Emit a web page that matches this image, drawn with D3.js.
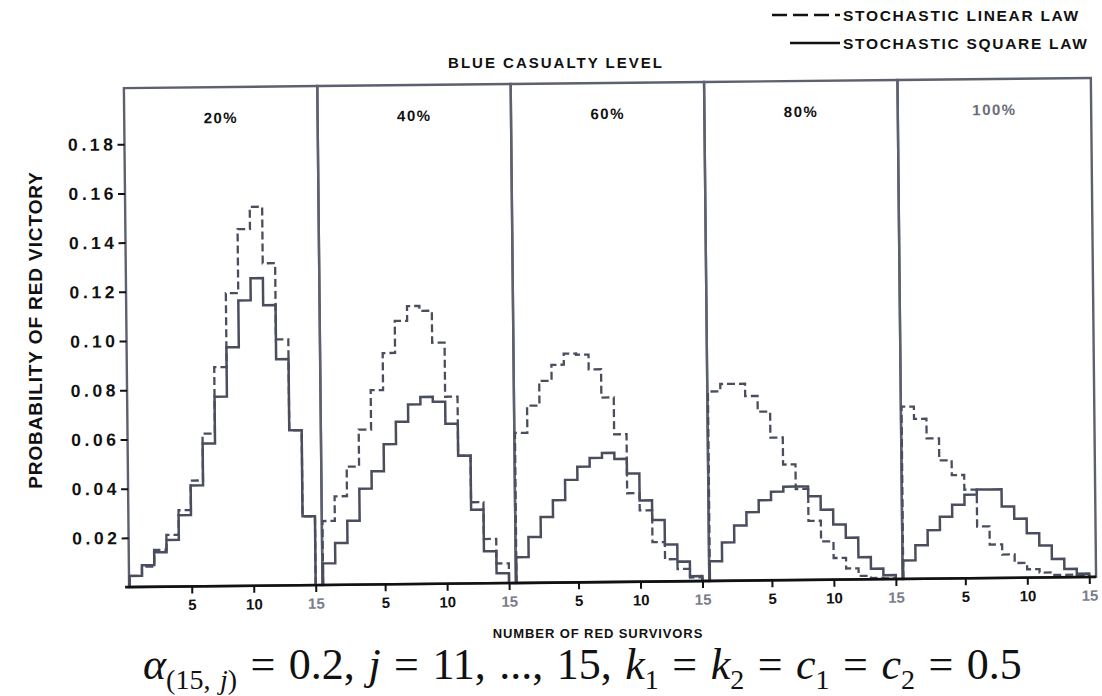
<!DOCTYPE html>
<html lang="en">
<head>
<meta charset="UTF-8">
<title>Probability of Red Victory</title>
<script src="https://d3js.org/d3.v7.min.js"></script>
<style>
  body { margin: 0; background: #fff; }
  svg { display: block; }
  .lbl { font-family: 'Liberation Sans', Arial, sans-serif; font-weight: bold; fill: #111; }
</style>
</head>
<body>
<svg id="chart" width="1102" height="696"></svg>
<script>
// blue casualty levels (one panel each)
const levels = ['20%', '40%', '60%', '80%', '100%'];
// number of red survivors, one bin each
const survivors = [1, 2, 3, 4, 5, 6, 7, 8, 9, 10, 11, 12, 13, 14, 15];

// stochastic linear law (dashed)
const linear20 = [0.0045, 0.0082, 0.015, 0.021, 0.031, 0.043, 0.062, 0.089, 0.119, 0.145, 0.154, 0.131, 0.100, 0.063, 0.028];
const linear40 = [0.026, 0.036, 0.048, 0.063, 0.079, 0.094, 0.107, 0.113, 0.111, 0.098, 0.076, 0.052, 0.033, 0.018, 0.008];
const linear60 = [0.061, 0.072, 0.082, 0.0885, 0.093, 0.0925, 0.0865, 0.075, 0.060, 0.036, 0.029, 0.016, 0.009, 0.005, 0.0015];
const linear80 = [0.077, 0.080, 0.080, 0.075, 0.0686, 0.058, 0.047, 0.037, 0.024, 0.0156, 0.0088, 0.0045, 0.0014, 0.0005, 0.0003];
const linear100 = [0.070, 0.065, 0.057, 0.048, 0.042, 0.036, 0.021, 0.0136, 0.0095, 0.006, 0.0034, 0.002, 0.001, 0.001, 0.0008];

// stochastic square law (solid)
const square20 = [0.0045, 0.0088, 0.014, 0.019, 0.029, 0.041, 0.058, 0.077, 0.097, 0.116, 0.125, 0.114, 0.092, 0.063, 0.028];
const square40 = [0.0088, 0.017, 0.026, 0.039, 0.046, 0.057, 0.066, 0.073, 0.076, 0.074, 0.065, 0.052, 0.030, 0.013, 0.004];
const square60 = [0.0105, 0.0186, 0.0267, 0.0335, 0.0417, 0.047, 0.0505, 0.0525, 0.050, 0.044, 0.033, 0.025, 0.015, 0.008, 0.002];
const square80 = [0.008, 0.0156, 0.0224, 0.0278, 0.0326, 0.036, 0.038, 0.038, 0.034, 0.0285, 0.0224, 0.017, 0.009, 0.0043, 0.0016];
const square100 = [0.0075, 0.0136, 0.0197, 0.0251, 0.0299, 0.034, 0.036, 0.036, 0.029, 0.024, 0.018, 0.013, 0.0075, 0.0034, 0.0014];

const yTicks = [0.02, 0.04, 0.06, 0.08, 0.10, 0.12, 0.14, 0.16, 0.18];
const xTicks = [5, 10, 15];

const panels = levels.map((level, i) => ({
    level: level,
    linear: [linear20, linear40, linear60, linear80, linear100][i],
    square: [square20, square40, square60, square80, square100][i]
}));

const ink = '#111';
const lineColor = '#4a4d5d';
const frameColor = '#5d606e';

const svg = d3.select('#chart');

// the scanned figure is slightly tilted
const plot = svg.append('g').attr('transform', 'rotate(-0.6, 610, 335)');

const panelX = d3.scaleBand().domain(levels).range([126.5, 1093.5]);
const y = d3.scaleLinear().domain([0, 0.2028]).range([582, 83]);
const x = d3.scaleLinear().domain([-0.05, 15.55]).range([0, panelX.bandwidth()]);

const step = d3.line()
    .x(d => x(d[0]))
    .y(d => y(d[1]))
    .curve(d3.curveStepAfter);

function stepPoints(vals) {
    const last = survivors[survivors.length - 1];
    const pts = [[0, 0]];
    vals.forEach((v, i) => pts.push([survivors[i] - 1, v]));
    pts.push([last, vals[vals.length - 1]]);
    pts.push([last, 0]);
    return pts;
}

const g = plot.selectAll('g.panel')
    .data(panels)
    .join('g')
    .attr('class', 'panel')
    .attr('transform', d => `translate(${panelX(d.level)},0)`);

g.append('rect')
    .attr('x', 0)
    .attr('y', y(0.2028))
    .attr('width', panelX.bandwidth())
    .attr('height', y(0) - y(0.2028))
    .attr('fill', 'none')
    .attr('stroke', frameColor)
    .attr('stroke-width', 2.4);

g.append('path')
    .attr('d', d => step(stepPoints(d.linear)))
    .attr('fill', 'none')
    .attr('stroke', lineColor)
    .attr('stroke-width', 2.3)
    .attr('stroke-dasharray', '8,4');

g.append('path')
    .attr('d', d => step(stepPoints(d.square)))
    .attr('fill', 'none')
    .attr('stroke', lineColor)
    .attr('stroke-width', 2.5);

g.append('text')
    .attr('class', 'lbl')
    .attr('x', panelX.bandwidth() / 2)
    .attr('y', y(0.2028) + 36)
    .attr('text-anchor', 'middle')
    .style('font-size', '15px')
    .style('letter-spacing', '1.5px')
    .style('fill', d => d.level === '100%' ? '#6a6d7a' : ink)
    .text(d => d.level);

// x axis per panel
g.each(function () {
    const ax = d3.select(this).append('g')
        .attr('transform', `translate(0,${y(0)})`)
        .call(d3.axisBottom(x).tickValues(xTicks).tickSize(7).tickPadding(6).tickFormat(d3.format('d')));
    ax.select('.domain').remove();
    ax.selectAll('line').attr('stroke', ink).attr('stroke-width', 2);
    ax.selectAll('text')
        .attr('class', 'lbl')
        .style('font-size', '15px')
        .style('fill', d => d === 15 ? '#7a7d8a' : ink);
});

// baseline
plot.append('line')
    .attr('x1', panelX.range()[0] - 4)
    .attr('x2', panelX.range()[1])
    .attr('y1', y(0))
    .attr('y2', y(0))
    .attr('stroke', ink)
    .attr('stroke-width', 2.6);

// y axis
const yAx = plot.append('g')
    .attr('transform', `translate(${panelX.range()[0]},0)`)
    .call(d3.axisLeft(y).tickValues(yTicks).tickSize(7).tickPadding(1).tickFormat(d3.format('.2f')));
yAx.select('.domain').remove();
yAx.selectAll('line').attr('stroke', ink).attr('stroke-width', 2);
yAx.selectAll('text')
    .attr('class', 'lbl')
    .style('font-size', '17.5px')
    .style('letter-spacing', '3.6px');

// axis titles
svg.append('text')
    .attr('class', 'lbl')
    .attr('transform', 'translate(42,330) rotate(-90)')
    .attr('text-anchor', 'middle')
    .style('font-size', '19px')
    .style('letter-spacing', '0.9px')
    .text('PROBABILITY OF RED VICTORY');

svg.append('text')
    .attr('class', 'lbl')
    .attr('x', 598)
    .attr('y', 638)
    .attr('text-anchor', 'middle')
    .style('font-size', '13px')
    .style('letter-spacing', '0.9px')
    .text('NUMBER OF RED SURVIVORS');

svg.append('text')
    .attr('class', 'lbl')
    .attr('x', 556)
    .attr('y', 68)
    .attr('text-anchor', 'middle')
    .style('font-size', '15px')
    .style('letter-spacing', '2px')
    .text('BLUE CASUALTY LEVEL');

// legend
const legend = [
    { name: 'STOCHASTIC LINEAR LAW', dash: '15,6', x1: 772, y: 15 },
    { name: 'STOCHASTIC SQUARE LAW', dash: null, x1: 790, y: 43 }
];
const lg = svg.selectAll('g.legend').data(legend).join('g').attr('class', 'legend');
lg.append('line')
    .attr('x1', d => d.x1)
    .attr('x2', 840)
    .attr('y1', d => d.y)
    .attr('y2', d => d.y)
    .attr('stroke', ink)
    .attr('stroke-width', 2.4)
    .attr('stroke-dasharray', d => d.dash);
lg.append('text')
    .attr('class', 'lbl')
    .attr('x', 843)
    .attr('y', d => d.y + 6)
    .style('font-size', '15.5px')
    .style('letter-spacing', '1.7px')
    .text(d => d.name);

// caption formula
const formula = [
    { t: 'α', it: true },
    { t: '(15, ', sub: true },
    { t: 'j', sub: true, it: true },
    { t: ')', sub: true },
    { t: ' = 0.2, ' },
    { t: 'j', it: true },
    { t: ' = 11, ..., 15, ' },
    { t: 'k', it: true },
    { t: '1', sub: true },
    { t: ' = ' },
    { t: 'k', it: true },
    { t: '2', sub: true },
    { t: ' = ' },
    { t: 'c', it: true },
    { t: '1', sub: true },
    { t: ' = ' },
    { t: 'c', it: true },
    { t: '2', sub: true },
    { t: ' = 0.5' }
];
const cap = svg.append('text')
    .attr('x', 143)
    .attr('y', 679)
    .style('font-family', "'Liberation Serif', 'Times New Roman', serif")
    .style('font-size', '44px')
    .style('word-spacing', '2.5px')
    .style('fill', ink);
let wasSub = false;
formula.forEach(p => {
    const s = cap.append('tspan').text(p.t);
    if (p.it) s.style('font-style', 'italic');
    if (p.sub) s.style('font-size', '28px');
    if (p.sub && !wasSub) s.attr('dy', 10);
    if (!p.sub && wasSub) s.attr('dy', -10);
    wasSub = !!p.sub;
});
</script>
</body>
</html>
